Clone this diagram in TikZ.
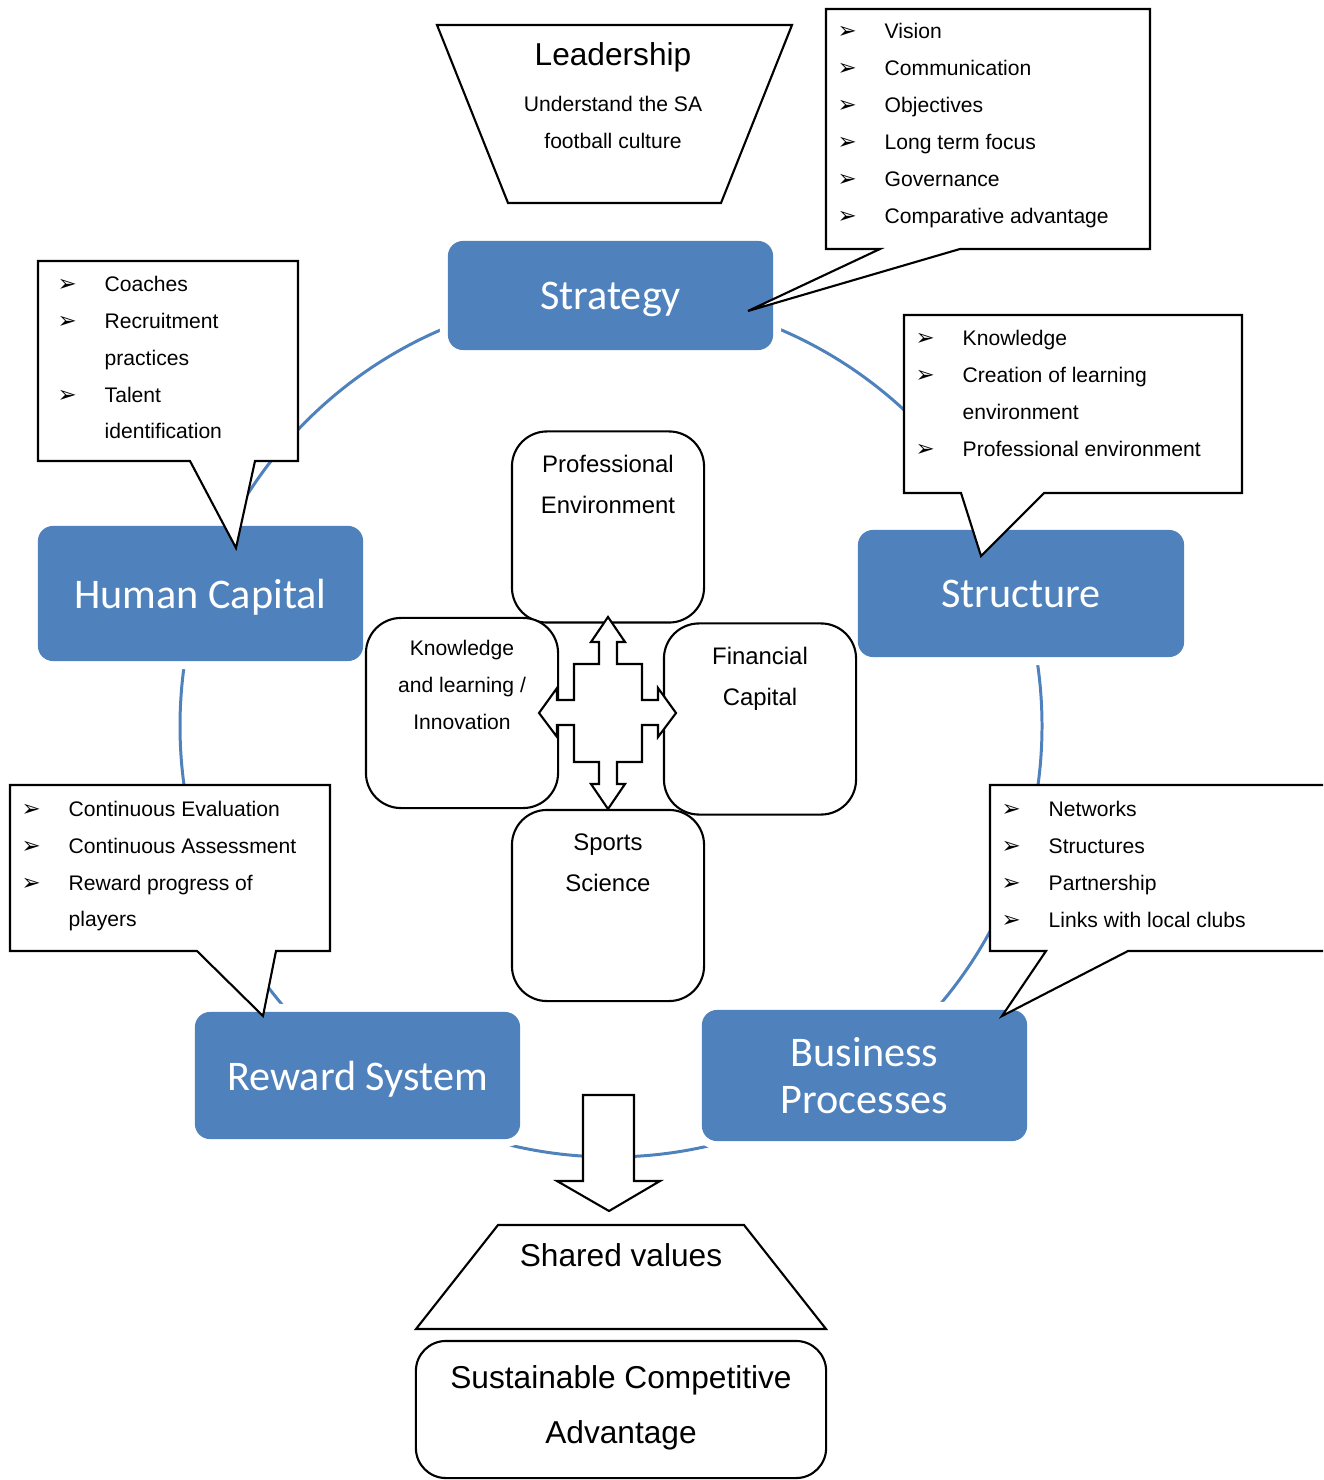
\documentclass[tikz,border=0pt]{standalone}
\usepackage{fontspec}
\setmainfont{Liberation Sans}
\newfontfamily\calibri{Carlito}
\newfontfamily\dejavu{DejaVu Sans}
\definecolor{cycleblue}{HTML}{4F81BD}
\tikzset{
  bluebox/.style={fill=cycleblue, rounded corners=0.15cm, text=white, align=center,
    preaction={draw=white, line width=0.16cm}, text depth=0pt,
    font=\calibri\fontsize{12}{13.4}\selectfont},
  roundbox/.style={draw, fill=white, line width=0.6pt, rounded corners=0.35cm,
    minimum width=1.92cm, minimum height=1.91cm},
  callout/.style={draw, fill=white, line width=0.6pt},
  item/.style={anchor=base west, inner sep=0pt, font=\fontsize{6}{7}\selectfont},
  tick/.style={anchor=base west, inner sep=0pt, font=\dejavu\fontsize{6.5}{7}\selectfont},
  boxtext/.style={anchor=base, align=center, inner sep=0pt}
}

\begin{document}
\begin{tikzpicture}[x=0.01cm, y=-0.01cm]
\useasboundingbox (0,0) rectangle (1323,1480);
\clip (0,0) rectangle (1323,1480);

% the cycle
\draw[cycleblue, line width=0.85pt] (611,726) circle (431);

\node[bluebox, minimum width=3.25cm, minimum height=1.09cm] (strategy) at (610.5,295.5) {Strategy};
\node[bluebox, minimum width=3.25cm, minimum height=1.35cm] (human) at (200.5,593.5) {Human Capital};
\node[bluebox, minimum width=3.26cm, minimum height=1.27cm] (structure) at (1021,593.5) {Structure};
\node[bluebox, minimum width=3.25cm, minimum height=1.27cm] (reward) at (357.5,1075.5) {Reward System};
\node[bluebox, minimum width=3.25cm, minimum height=1.31cm] (business) at (864.5,1075.5) {Business\\Processes};

% leadership
\draw[callout] (437,25) -- (792,25) -- (721,203) -- (508,203) -- cycle;
\node[boxtext, font=\fontsize{9}{10}\selectfont] (lead) at (613,66) {Leadership};
\node[boxtext, font=\fontsize{6}{10.5}\selectfont] (leadtext) at (613,148.5) {Understand the SA\\football culture};

% callouts
\draw[callout] (826,9) -- (1150,9) -- (1150,249) -- (960,249) -- (748,311) -- (880,249) -- (826,249) -- cycle;
\foreach \txt [count=\i] in {Vision, Communication, Objectives, Long term focus, Governance, Comparative advantage} {
  \node[tick] (sb\i) at (837,2+37*\i) {➢};
  \node[item] (st\i) at (884,2+37*\i) {\txt};
}

\draw[callout] (38,261) -- (298,261) -- (298,461) -- (255,461) -- (236,548) -- (190,461) -- (38,461) -- cycle;
\foreach \y/\txt in {292/Coaches, 329/Recruitment, 366/practices, 403/Talent, 439/identification}
  \node[item] (hc\y) at (104,\y) {\txt};
\foreach \y in {292,329,403}
  \node[tick] (hb\y) at (57,\y) {➢};

\draw[callout] (904,315) -- (1242,315) -- (1242,493) -- (1044,493) -- (981,556) -- (961,493) -- (904,493) -- cycle;
\foreach \y/\txt in {346/Knowledge, 383/Creation of learning, 420/environment, 457/Professional environment}
  \node[item] (sc\y) at (962,\y) {\txt};
\foreach \y in {346,383,457}
  \node[tick] (sb\y) at (915,\y) {➢};

\draw[callout] (10,785) -- (330,785) -- (330,951) -- (276,951) -- (263,1016) -- (197,951) -- (10,951) -- cycle;
\foreach \y/\txt in {816/Continuous Evaluation, 853/Continuous Assessment, 890/Reward progress of, 926/players}
  \node[item] (rc\y) at (68,\y) {\txt};
\foreach \y in {816,853,890}
  \node[tick] (rb\y) at (21,\y) {➢};

\draw[callout] (990,785) -- (1340,785) -- (1340,951) -- (1128,951) -- (1002,1016) -- (1046,951) -- (990,951) -- cycle;
\foreach \txt [count=\i] in {Networks, Structures, Partnership, Links with local clubs} {
  \node[tick] (bb\i) at (1001,779+37*\i) {➢};
  \node[item] (bc\i) at (1048,779+37*\i) {\txt};
}

% centre boxes
\node[roundbox] (profbox) at (608,527) {};
\node[roundbox, minimum height=1.90cm] (knowbox) at (462,713) {};
\node[roundbox] (finbox) at (760,719) {};
\node[roundbox] (sportbox) at (608,905.5) {};
\node[boxtext, font=\fontsize{6.8}{11.7}\selectfont] (proftext) at (608,513.5) {Professional\\Environment};
\node[boxtext, font=\fontsize{6}{10.5}\selectfont] (knowtext) at (462,729.5) {Knowledge\\and learning /\\Innovation};
\node[boxtext, font=\fontsize{6.8}{11.7}\selectfont] (fintext) at (760,705.5) {Financial\\Capital};
\node[boxtext, font=\fontsize{6.8}{11.7}\selectfont] (sporttext) at (608,891.5) {Sports\\Science};

% four way arrow
\draw[callout] (608,617) -- (625,642) -- (617,642) -- (617,664) -- (642,664) -- (642,700)
  -- (658,700) -- (658,688) -- (676,713) -- (658,737) -- (658,725) -- (642,725) -- (642,762)
  -- (617,762) -- (617,784) -- (625,784) -- (608,809) -- (591,784) -- (599,784) -- (599,762)
  -- (574,762) -- (574,725) -- (557,725) -- (557,737) -- (539,713) -- (557,688) -- (557,700)
  -- (574,700) -- (574,664) -- (599,664) -- (599,642) -- (591,642) -- cycle;

% down arrow
\draw[callout] (583,1095) -- (634,1095) -- (634,1181) -- (660,1181) -- (609,1211) -- (557,1181) -- (583,1181) -- cycle;

% bottom
\draw[callout] (498,1225) -- (744,1225) -- (826,1329) -- (416,1329) -- cycle;
\node[boxtext, font=\fontsize{9}{10}\selectfont] (shared) at (621,1266) {Shared values};
\node[draw, line width=0.6pt, rounded corners=0.3cm, minimum width=4.1cm, minimum height=1.37cm] (scabox) at (621,1409.5) {};
\node[boxtext, font=\fontsize{9}{15.6}\selectfont] (scatext) at (621,1443) {Sustainable Competitive\\Advantage};
\end{tikzpicture}
\end{document}
